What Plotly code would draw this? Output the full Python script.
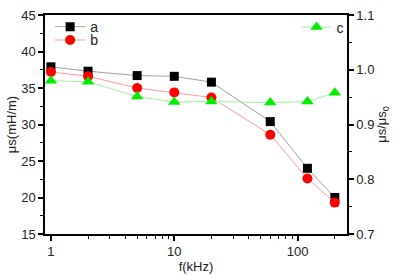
import plotly.graph_objects as go

freq = [1, 2, 5, 10, 20, 60, 120, 200]
mu_a = [37.9, 37.3, 36.7, 36.6, 35.8, 30.4, 24.0, 20.0]
mu_b = [37.2, 36.6, 35.0, 34.4, 33.7, 28.6, 22.6, 19.3]
ratio_c = [0.980, 0.978, 0.951, 0.941, 0.942, 0.940, 0.942, 0.958]

font = "Liberation Sans, Arial, sans-serif"

fig = go.Figure()
fig.add_trace(go.Scatter(x=freq, y=mu_a, name="a", mode="lines+markers",
                         line=dict(color="#a0a0a0", width=1),
                         marker=dict(symbol="square", color="black", size=9),
                         legend="legend"))
fig.add_trace(go.Scatter(x=freq, y=mu_b, name="b", mode="lines+markers",
                         line=dict(color="#ff9a9a", width=1),
                         marker=dict(symbol="circle", color="red", size=10),
                         legend="legend2"))
fig.add_trace(go.Scatter(x=freq, y=ratio_c, name="c", mode="lines+markers",
                         line=dict(color="#a0f0a0", width=1),
                         marker=dict(symbol="triangle-up", color="#00ee00", size=11),
                         yaxis="y2", legend="legend3"))

axis_common = dict(showline=True, linecolor="black", linewidth=1.5, ticks="outside",
                   ticklen=5, tickwidth=1.5, tickcolor="black", showgrid=False, zeroline=False,
                   tickfont=dict(family=font, size=13, color="#222"))

leg_common = dict(xanchor="left", yanchor="middle", bgcolor="rgba(0,0,0,0)",
                  font=dict(family=font, size=14, color="#222"), itemwidth=30)

fig.update_layout(
    width=394, height=276,
    showlegend=True,
    margin=dict(l=45, r=44, t=8, b=41),
    paper_bgcolor="white", plot_bgcolor="white",
    font=dict(family=font, size=13, color="#222"),
    xaxis=dict(type="log", range=[-0.048, 2.40], tickvals=[1, 10, 100], ticktext=["1", "10", "100"],
               mirror=True, title=dict(text="f(kHz)", standoff=0, font=dict(size=13)),
               minor=dict(ticks="outside", ticklen=3, tickwidth=1, tickcolor="black",
                          tickvals=[2, 3, 4, 5, 6, 7, 8, 9, 20, 30, 40, 50, 60, 70, 80, 90, 200]),
               **axis_common),
    yaxis=dict(range=[15, 45], dtick=5, title=dict(text="μs(mH/m)", standoff=2, font=dict(size=13)),
               minor=dict(ticks="outside", ticklen=3, tickwidth=1, tickcolor="black", dtick=2.5),
               **axis_common),
    yaxis2=dict(range=[0.7, 1.1], dtick=0.1, overlaying="y", side="right", tickformat=".1f",
                title=dict(text="μs/μs<sub>0</sub>", standoff=2, font=dict(size=13)),
                minor=dict(ticks="outside", ticklen=3, tickwidth=1, tickcolor="black", dtick=0.05),
                **axis_common),
    legend=dict(x=0.017, y=0.945, **leg_common),
    legend2=dict(x=0.017, y=0.884, **leg_common),
    legend3=dict(x=0.833, y=0.943, **leg_common),
)

fig.write_html("out.html", config={"displayModeBar": False},
               post_script="document.body.style.margin='0px';")
